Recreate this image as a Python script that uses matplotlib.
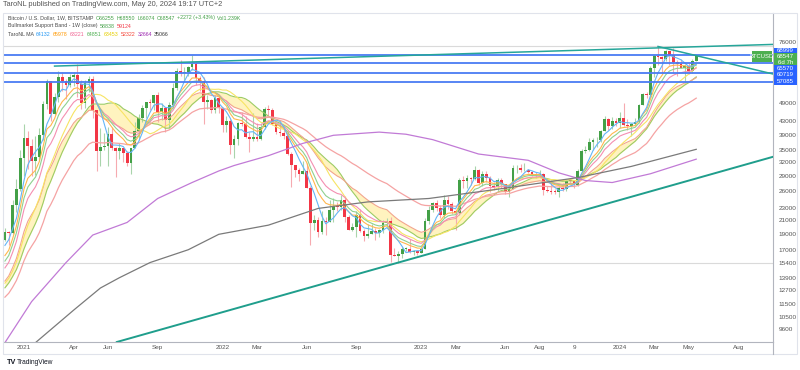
import numpy as np
import pandas as pd
import matplotlib
matplotlib.use('Agg')
import matplotlib.pyplot as plt
from matplotlib.patches import Rectangle
from matplotlib.lines import Line2D
from matplotlib.ticker import NullLocator

plt.rcParams['font.family'] = ['Liberation Sans', 'DejaVu Sans']

# weekly closes before the visible window, only used to warm up the averages
warm_closes = [9160, 9930, 11070, 11680, 11910, 11650, 11700, 10280, 10330, 10930,
               10780, 10670, 11380, 11500, 13030, 13800, 15480, 15970, 18680, 18180]
slow_ema_seed = 9400

# BTCUSD weekly bars, first week 2020-11-30, last week 2024-05-20
closes = [19370, 19170, 23480, 26280, 33000,
          38150, 35800, 32260, 33100, 38900, 48600, 57500, 45200, 51200, 59000, 57500, 55800, 58900,
          60000, 56200, 49100, 56600, 58300, 46400, 34700, 35700, 35800, 39100, 35500, 34700, 35300,
          34250, 31780, 35400, 39900, 43800, 47100, 49300, 48800, 51800, 46000, 47300, 43200, 48200,
          54700, 61500, 60900, 61300, 63300, 65000, 58700, 57300, 49400, 50100, 46700, 50800, 47300,
          41900, 43100, 36300, 37900, 42400, 42200, 38400, 37700, 38400, 37800, 41300, 46800, 46400,
          42200, 39700, 39500, 38500, 34000, 31300, 30300, 29400, 29900, 26600, 20550, 21000, 19300,
          20850, 20800, 22600, 23300, 23200, 24300, 21500, 19550, 19990, 21800, 19400, 18800, 19050,
          19420, 19170, 19570, 20630, 20900, 16330, 16280, 16450, 17100, 17100, 16740, 16840, 16610,
          17130, 20880, 22700, 23750, 22930, 21800, 24300, 23560, 22420, 22130, 28040, 27990, 28450,
          28330, 30310, 27600, 29250, 28450, 26920, 26750, 28070, 27250, 25850, 26340, 30540, 30600,
          30170, 30250, 29800, 29280, 29050, 29300, 26190, 26000, 25870, 25840, 26550, 26250, 27990,
          27930, 27110, 29990, 34530, 35010, 37060, 37380, 37450, 39970, 43760, 41370, 43020, 42280,
          43950, 41730, 41580, 42120, 42580, 48300, 52130, 51730, 63110, 68960, 68390, 67210, 71280,
          69360, 65660, 64940, 63110, 63890, 61480, 66255, 68547]
highs = [19920, 19420, 24300, 28400, 34800,
         41950, 40100, 37800, 38600, 40950, 49700, 58350, 57500, 52600, 61800, 61200, 58400, 60200,
         61200, 64900, 57600, 58000, 59500, 59600, 46700, 40800, 39500, 41300, 41300, 35600, 36600,
         35400, 34600, 35500, 42600, 45300, 48200, 49500, 50500, 51900, 52900, 48800, 47700, 49200,
         56600, 62900, 67000, 63700, 63800, 69000, 66300, 59300, 59100, 51900, 50500, 51900, 52000,
         47500, 44500, 43500, 38900, 42600, 45800, 44700, 39800, 45400, 42500, 42400, 47500, 48200,
         47200, 42400, 42950, 40800, 40000, 34300, 31400, 30600, 32300, 31700, 26900, 21900, 21500,
         22400, 21600, 24300, 24700, 24000, 25200, 25000, 21800, 20600, 22400, 22800, 19700, 20400,
         20450, 19900, 19700, 21000, 21300, 21450, 17200, 16800, 17400, 17400, 18400, 17000, 16900,
         17200, 21300, 23300, 23950, 24250, 23400, 25250, 25000, 23900, 22600, 28450, 28900, 29200,
         28800, 31000, 30500, 30000, 29900, 29000, 27700, 28500, 28450, 27400, 27000, 31400, 31300,
         31550, 31800, 30450, 29950, 29800, 30200, 29650, 26850, 28200, 26400, 27000, 27450, 28050,
         28600, 28100, 30350, 35200, 35950, 37950, 37950, 38450, 40200, 44700, 43800, 44300, 43800,
         45900, 49000, 43500, 42250, 43850, 48600, 52800, 52900, 64000, 69200, 73800, 68900, 71750,
         71400, 72800, 66900, 67200, 64700, 65500, 67400, 68550]
lows = [18150, 17580, 19000, 22350, 25900,
        29000, 30400, 28850, 29200, 32300, 37400, 47000, 43000, 44950, 49300, 53300, 50400, 54800,
        55500, 51300, 47000, 47100, 53000, 43800, 30000, 31100, 34800, 31000, 34800, 28800, 32700,
        32100, 31100, 29300, 35300, 37500, 42800, 43900, 46400, 46500, 42800, 43400, 39600, 40800,
        47100, 53900, 59600, 58000, 59400, 62300, 55600, 53300, 42000, 46800, 45500, 45600, 45700,
        39700, 39600, 34000, 32950, 36300, 41600, 37950, 34300, 37200, 37200, 37600, 40500, 44250,
        41900, 39200, 38600, 37700, 33700, 26700, 28700, 28000, 29300, 26600, 17600, 19600, 18700,
        19000, 18900, 20800, 20700, 22400, 22700, 20800, 19550, 19500, 18600, 19300, 18100, 18500,
        19000, 18200, 18650, 19200, 20100, 15600, 16200, 15500, 16000, 16800, 16600, 16400, 16350,
        16600, 17100, 20400, 22300, 22500, 21400, 21400, 22800, 21950, 19550, 21900, 26600, 26500,
        27200, 28200, 27100, 26950, 27700, 25800, 26100, 25900, 26600, 25400, 24800, 26250, 29600,
        29800, 29950, 29600, 28900, 28600, 28700, 25200, 25800, 25350, 25350, 24900, 26000, 26000,
        27250, 26550, 26950, 29900, 34100, 34550, 34800, 35700, 36900, 39900, 40200, 40550, 41500,
        40750, 41500, 40300, 38550, 41900, 42300, 48100, 50600, 50900, 59000, 64500, 60800, 66500,
        64500, 60800, 59600, 62800, 56550, 60200, 60800, 66074]

# long averages (100w and 200w SMA)
sma100_dates = ['2020-11-30', '2021-01-18', '2021-03-22', '2021-05-10', '2021-07-12', '2021-09-06',
                '2021-11-08', '2021-12-27', '2022-01-24', '2022-03-28', '2022-05-30', '2022-07-25',
                '2022-10-17', '2022-12-05', '2023-01-23', '2023-04-17', '2023-07-17', '2023-09-11',
                '2023-10-30', '2023-12-18', '2024-02-26', '2024-05-20']
sma100_vals = [8700, 11700, 15500, 18900, 20700, 24600, 27600, 30000, 31200, 33500, 36600, 38800,
               39700, 39100, 37600, 33900, 32400, 29600, 28000, 27600, 29400, 32664]
sma200_dates = ['2020-11-30', '2021-01-25', '2021-04-05', '2021-05-24', '2021-06-28', '2021-08-23',
                '2021-11-01', '2021-12-27', '2022-03-28', '2022-06-27', '2022-09-26', '2023-01-16',
                '2023-05-22', '2023-10-16', '2024-01-22', '2024-05-20']
sma200_vals = [7100, 8700, 11000, 12900, 13900, 15500, 17000, 19000, 20300, 22900, 24000, 24600,
               26300, 28600, 31000, 35066]

key_levels = [68999, 65570, 60719, 57085]
grey_levels = [73800, 15476]
trend_up = (['2022-11-21', '2024-10-07'], [15500, 33200])
trend_top = (['2021-03-01', '2024-10-07'], [63900, 74700])
trend_down = (['2024-03-11', '2024-10-07'], [73600, 60400])

ytick_vals = [76000, 49000, 43000, 39000, 35000, 32000, 29000, 26000, 23000, 21000, 19000, 17000,
              15400, 13900, 12700, 11500, 10500, 9600]
xtick_dates = ['2021-01-04', '2021-04-05', '2021-06-07', '2021-09-06', '2022-01-03', '2022-03-07',
               '2022-06-06', '2022-09-05', '2023-01-02', '2023-03-06', '2023-06-05', '2023-08-07',
               '2023-10-09', '2024-01-01', '2024-03-04', '2024-05-06', '2024-08-05']
xtick_labels = ['2021', 'Apr', 'Jun', 'Sep', '2022', 'Mar', 'Jun', 'Sep', '2023', 'Mar', 'Jun', 'Aug',
                '9', '2024', 'Mar', 'May', 'Aug']

T0 = pd.Timestamp('2021-01-04')


def wk(d):
    return (pd.to_datetime(d) - T0).days / 7.0


def ema(vals, n, seed=None):
    a = 2.0 / (n + 1)
    e = vals[0] if seed is None else seed
    out = []
    for v in vals:
        e = e + a * (v - e)
        out.append(e)
    return np.array(out)


dates = pd.date_range('2020-11-30', periods=len(closes), freq='7D')
x = wk(dates)
c = np.array(closes, float)
o = np.array([warm_closes[-1]] + closes[:-1], float)
h = np.maximum(np.array(highs, float), np.maximum(o, c))
l = np.minimum(np.array(lows, float), np.minimum(o, c))

allc = pd.Series(warm_closes + closes, dtype=float)
nw = len(warm_closes)
sma5 = allc.rolling(5).mean().values[nw:]
ema8 = ema(allc.values, 8)[nw:]
ema10 = ema(allc.values, 10)[nw:]
ema13 = ema(allc.values, 13)[nw:]
sma16 = allc.rolling(16).mean().values[nw:]
sma20 = allc.rolling(20).mean().values[nw:]
ema21 = ema(allc.values, 21)[nw:]
ema40 = ema(allc.values, 40, slow_ema_seed)[nw:]

W, H = 800, 370
fig = plt.figure(figsize=(8, 3.7), dpi=100)


def fx(px):
    return px / W


def fy(py):
    return 1 - py / H


ax = fig.add_axes([fx(4), fy(342), (773 - 4) / W, (342 - 13) / H])
ax.set_yscale('log')
ax.set_ylim(8741, 93700)
ax.set_xlim(-5.24, 196.1)

# candles
up = c >= o
gc, rc = '#43a047', '#f23645'
ax.vlines(x[up], l[up], h[up], color='#a9d4ab', lw=0.8, zorder=2)
ax.vlines(x[~up], l[~up], h[~up], color='#f6aab0', lw=0.8, zorder=2)
body_lo = np.minimum(o, c)
body_h = np.maximum(np.abs(c - o), body_lo * 0.004)
ax.bar(x[up], body_h[up], bottom=body_lo[up], width=0.72, color=gc, zorder=3)
ax.bar(x[~up], body_h[~up], bottom=body_lo[~up], width=0.72, color=rc, zorder=3)

# bull market support band
ax.fill_between(x, sma20, ema21, color='#fff1b0', alpha=0.8, lw=0, zorder=1)
ax.plot(x, sma20, color='#9ccc65', lw=0.8, zorder=4)
ax.plot(x, ema21, color='#f2a58e', lw=0.8, zorder=4)

# MA set
ax.plot(x, ema40, color='#f5a3a3', lw=0.9, zorder=4)
ax.plot(x, sma16, color='#f7e463', lw=0.8, zorder=4)
ax.plot(x, ema13, color='#f48fb1', lw=0.8, zorder=4)
ax.plot(x, ema10, color='#8fd18f', lw=0.8, zorder=4)
ax.plot(x, ema8, color='#ffb74d', lw=0.8, zorder=4)
ax.plot(x, sma5, color='#64b5f6', lw=0.8, zorder=4)
ax.plot(wk(sma100_dates), sma100_vals, color='#c17ad6', lw=0.9, zorder=4)
ax.plot(wk(sma200_dates), sma200_vals, color='#7a7a7a', lw=0.9, zorder=4)

# drawings
for lv in grey_levels:
    ax.axhline(lv, color='#dadada', lw=0.8, zorder=1)
for lv in key_levels:
    ax.axhline(lv, color='#4a7cf3', lw=1.3, zorder=5)
ax.axline((wk(trend_up[0][0]), trend_up[1][0]), (wk(trend_up[0][1]), trend_up[1][1]),
          color='#1f9e8c', lw=1.4, zorder=5)
ax.plot(wk(trend_top[0]), trend_top[1], color='#26a69a', lw=1.1, zorder=5)
ax.plot(wk(trend_down[0]), trend_down[1], color='#26a69a', lw=1.1, zorder=5)

# axes styling
for s in ['top', 'left']:
    ax.spines[s].set_visible(False)
for s in ['bottom', 'right']:
    ax.spines[s].set_color('#b2b5be')
    ax.spines[s].set_linewidth(0.8)
ax.yaxis.tick_right()
ax.yaxis.set_minor_locator(NullLocator())
ax.set_yticks(ytick_vals)
ax.set_yticklabels([str(v) for v in ytick_vals])
ax.set_xticks(wk(xtick_dates))
ax.set_xticklabels(xtick_labels)
ax.tick_params(axis='y', length=0, pad=4, labelsize=4.6, labelcolor='#555555')
ax.tick_params(axis='x', length=0, pad=2.5, labelsize=4.6, labelcolor='#555555')

# outer frame
fig.add_artist(Rectangle((fx(3), fy(354)), 794 / W, 341 / H, fill=False, ec='#e0e3eb', lw=0.8,
                         transform=fig.transFigure))
fig.add_artist(Line2D([fx(773), fx(773)], [fy(342), fy(354)], color='#b2b5be', lw=0.8,
                      transform=fig.transFigure))


def box(x0, y0, x1, y1, color):
    fig.add_artist(Rectangle((fx(x0), fy(y1)), (x1 - x0) / W, (y1 - y0) / H, color=color, lw=0,
                             transform=fig.transFigure))


# price scale labels
blue, green = '#2962ff', '#4caf50'
box(774, 48, 797, 53.3, blue)
box(774, 53.3, 797, 65, green)
box(774, 65, 797, 84.5, blue)
box(752, 51, 772, 61.5, green)
for txt, yy in [('68999', 50.7), ('68547', 56.6), ('6d 7h', 62), ('65570', 68.4), ('60719', 75),
                ('57085', 81.4)]:
    fig.text(fx(785.5), fy(yy), txt, fontsize=4.4, color='white', ha='center', va='center')
fig.text(fx(762), fy(56.3), 'BTCUSD', fontsize=4.2, color='white', ha='center', va='center')

# header and legend
fig.text(fx(3), fy(5), 'TaroNL published on TradingView.com, May 20, 2024 19:17 UTC+2',
         fontsize=5.3, color='#555555', va='center')
renderer = fig.canvas.get_renderer()


def chain(px, py, parts, size=3.8):
    for s, col in parts:
        t = fig.text(fx(px), fy(py), s, color=col, fontsize=size, va='center', ha='left')
        px += t.get_window_extent(renderer).width + 2.2


tg = '#4a4a4a'
chain(8, 18, [('Bitcoin / U.S. Dollar, 1W, BITSTAMP', tg), ('O66255', gc), ('H68550', gc),
              ('L66074', gc), ('C68547', gc), ('+2272 (+3.43%)', gc), ('Vol1.239K', gc)])
chain(8, 26, [('Bullmarket Support Band - 1W (close)', tg), ('58838', '#43a047'), ('59124', '#f23645')])
chain(8, 34, [('TaroNL MA', tg), ('64132', '#2196f3'), ('65978', '#ff9800'), ('63221', '#f06292'),
              ('64851', '#4caf50'), ('63453', '#e6cf00'), ('52322', '#f44336'), ('32664', '#9c27b0'),
              ('35066', '#333333')])

# footer logo
fig.text(fx(7), fy(362), 'TV', fontsize=5.2, color='#131722', fontweight='bold', va='center')
fig.text(fx(17), fy(362), 'TradingView', fontsize=4.8, color='#131722', va='center')

fig.savefig('out.png', dpi=100)
